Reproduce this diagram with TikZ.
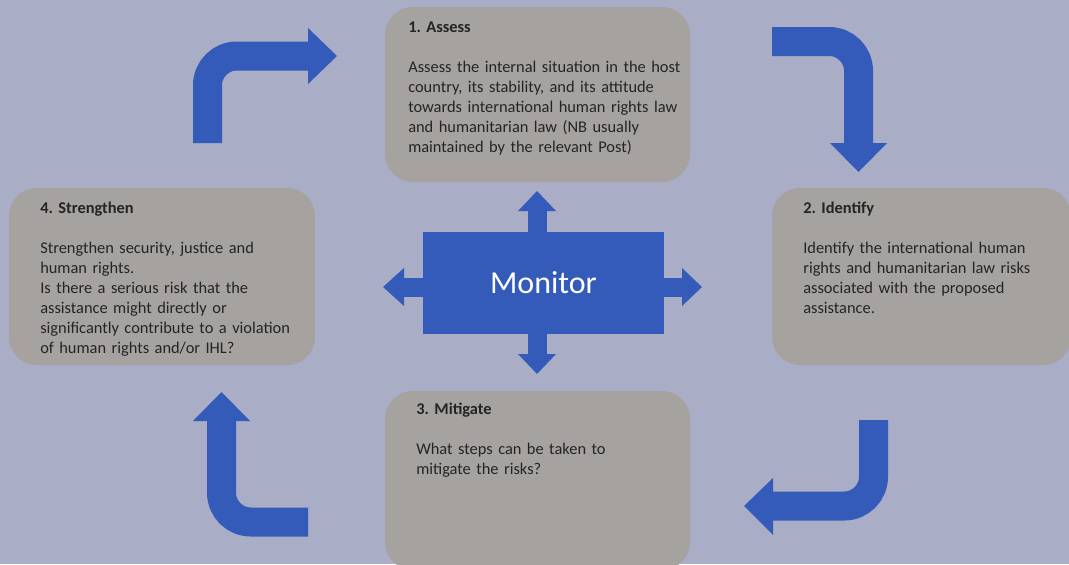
\documentclass[tikz,border=0pt]{standalone}
\usepackage{fontspec}
\setmainfont{Carlito}
\frenchspacing
\usepackage{xcolor}
\definecolor{pagegray}{RGB}{169, 173, 197}
\definecolor{stagegray}{RGB}{166, 162, 160}
\definecolor{cycleblue}{RGB}{52, 91, 186}
\definecolor{inkgray}{RGB}{36, 36, 36}

\begin{document}
\begin{tikzpicture}[x=0.75pt, y=-0.75pt,
  stagebox/.style={fill=stagegray, rounded corners=21pt},
  stagetext/.style={anchor=base west, align=left, inner sep=0pt, text width=230pt, text=inkgray, font=\fontsize{12.3}{15}\selectfont},
  bentshaft/.style={cycleblue, line width=21.75pt, rounded corners=22pt},
  spoke/.style={cycleblue, line width=14.25pt}]

  % Page
  \fill[pagegray] (0,0) rectangle (1069,564);
  \useasboundingbox (0,0) rectangle (1069,564);
  \clip (0,0) rectangle (1069,564);

  % Stage boxes
  \fill[stagebox] (385,7) rectangle (690,182);
  \fill[stagebox] (772,188) rectangle (1071,365);
  \fill[stagebox] (385,391) rectangle (690,570);
  \fill[stagebox] (9,188) rectangle (315,365);

  \node[stagetext] (assess) at (408,32) {\textbf{1. Assess}\\[15pt]
    Assess the internal situation in the host\\
    country, its stability, and its attitude\\
    towards international human rights law\\
    and humanitarian law (NB usually\\
    maintained by the relevant Post)};
  \node[stagetext] (identify) at (803,213) {\textbf{2. Identify}\\[15pt]
    Identify the international human\\
    rights and humanitarian law risks\\
    associated with the proposed\\
    assistance.};
  \node[stagetext] (mitigate) at (416,414) {\textbf{3. Mitigate}\\[15pt]
    What steps can be taken to\\
    mitigate the risks?};
  \node[stagetext] (strengthen) at (40,213) {\textbf{4. Strengthen}\\[15pt]
    Strengthen security, justice and\\
    human rights.\\
    Is there a serious risk that the\\
    assistance might directly or\\
    significantly contribute to a violation\\
    of human rights and/or IHL?};

  % Bent arrows between the stages
  \draw[bentshaft] (207.5,143) -- (207.5,56) -- (309,56);
  \fill[cycleblue] (308,28) -- (337,56) -- (308,84) -- cycle;

  \draw[bentshaft] (772,41.5) -- (858.5,41.5) -- (858.5,144);
  \fill[cycleblue] (830,143) -- (887,143) -- (858.5,172) -- cycle;

  \draw[bentshaft] (873.5,420) -- (873.5,506) -- (772,506);
  \fill[cycleblue] (773,478) -- (773,535) -- (744,506) -- cycle;

  \draw[bentshaft] (308,522) -- (221.5,522) -- (221.5,420);
  \fill[cycleblue] (193,421) -- (250,421) -- (221.5,392) -- cycle;

  % Four-way arrow behind the centre box
  \coordinate (hub) at (537,287);
  \draw[spoke] (hub) -- (537,211);
  \fill[cycleblue] (518,211) -- (556,211) -- (537,191) -- cycle;
  \draw[spoke] (hub) -- (537,354);
  \fill[cycleblue] (518,354) -- (556,354) -- (537,374) -- cycle;
  \draw[spoke] (hub) -- (404,287);
  \fill[cycleblue] (404,268) -- (404,306) -- (383,287) -- cycle;
  \draw[spoke] (hub) -- (682,287);
  \fill[cycleblue] (682,268) -- (682,306) -- (702,287) -- cycle;

  % Centre box
  \node[fill=cycleblue, minimum width=180.75pt, minimum height=76.5pt, inner sep=0pt,
        text=white, font=\fontsize{24}{28}\selectfont] (monitor) at (543.5,283) {\raisebox{-1.5pt}{Monitor}};

\end{tikzpicture}
\end{document}
